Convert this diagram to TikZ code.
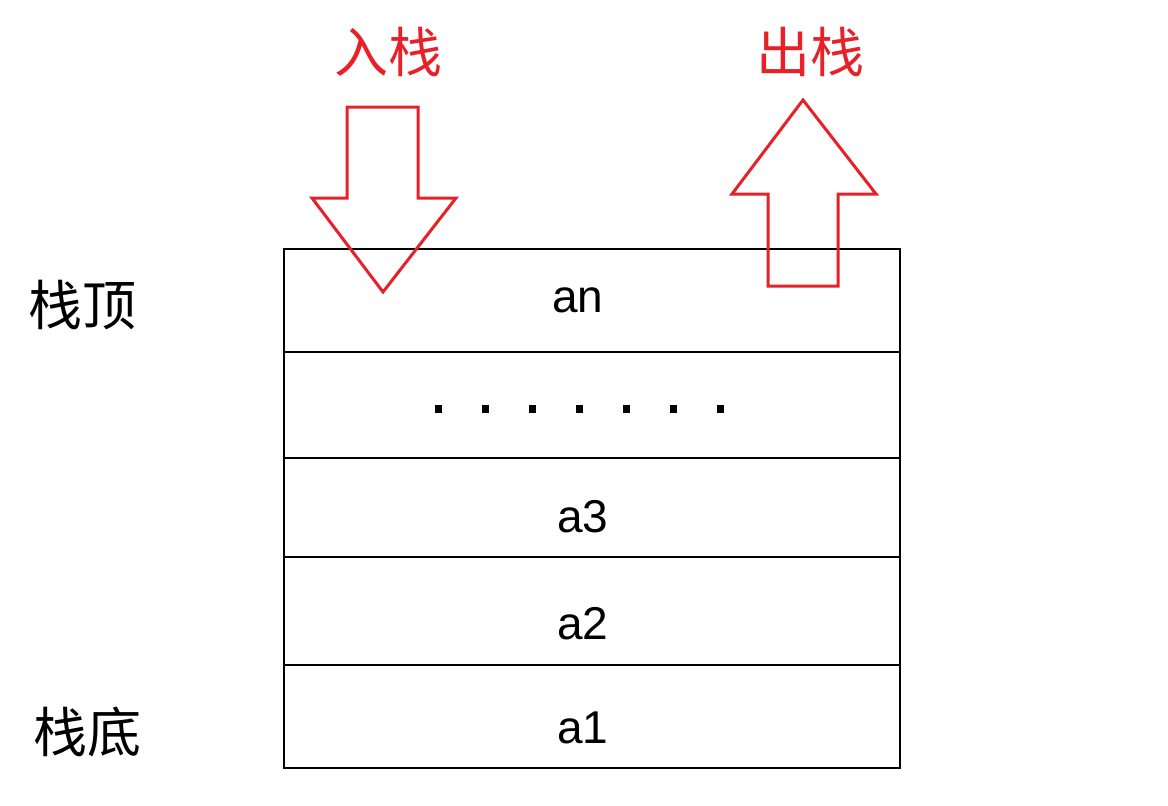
\documentclass[tikz,border=0pt]{standalone}
\usepackage{fontspec}
\setmainfont{Liberation Sans}
\newfontfamily\cjk{Noto Sans CJK SC}
\definecolor{ared}{RGB}{232,32,40}
\begin{document}
\begin{tikzpicture}[x=1pt,y=-1pt,
  cell/.style={draw=black,line width=1.5pt,minimum width=616pt,inner sep=0pt,anchor=north west},
  lab/.style={font=\fontsize{46}{46}\selectfont},
  cn/.style={font=\cjk\fontsize{54}{54}\selectfont},
  arr/.style={draw=ared,line width=3pt,line join=miter}]
\useasboundingbox (0,0) rectangle (1168,806);
\node[cell,minimum height=103pt] (r5) at (283,248) {};
\node[cell,minimum height=106pt] (r4) at (283,351) {};
\node[cell,minimum height=99pt] (r3) at (283,457) {};
\node[cell,minimum height=108pt] (r2) at (283,556) {};
\node[cell,minimum height=103pt] (r1) at (283,664) {};
\node[lab] (tn) at (578,300) {an};
\node[lab] (t3) at (583,517) {a3};
\node[lab] (t2) at (583,624) {a2};
\node[lab] (t1) at (583,728) {a1};
\foreach \i in {0,...,6}{\fill (438+47*\i-3,405) rectangle ++(7,8);}
\node[cn] (top) at (82,305) {栈顶};
\node[cn] (bot) at (88,732) {栈底};
\node[cn,text=ared] (push) at (388,52) {入栈};
\node[cn,text=ared] (pop) at (810,52) {出栈};
\draw[arr] (347,107) -- (418,107) -- (418,198) -- (456,198) -- (383,292) -- (312,198) -- (347,198) -- cycle;
\draw[arr] (768,286) -- (838,286) -- (838,194) -- (876,194) -- (803,100) -- (732,194) -- (768,194) -- cycle;
\end{tikzpicture}
\end{document}
